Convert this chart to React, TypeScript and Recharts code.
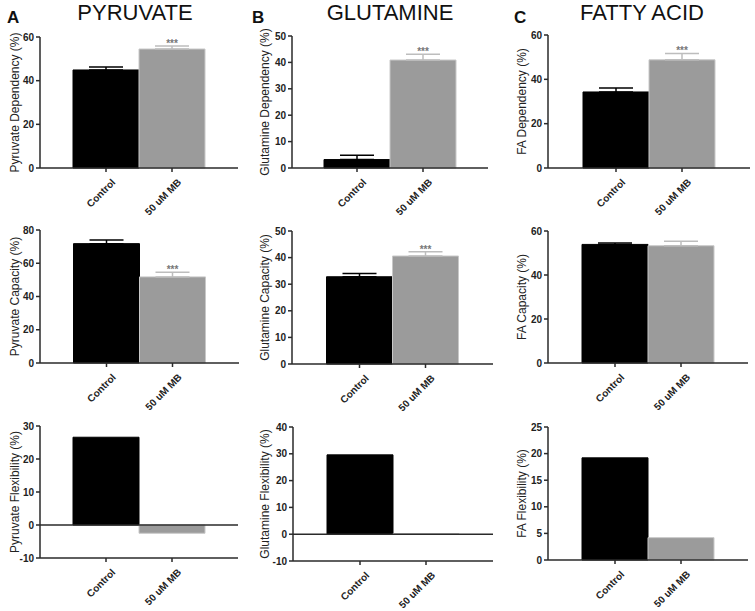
import { BarChart, Bar, XAxis, YAxis, Cell, ErrorBar, LabelList, ReferenceLine } from 'recharts';

const categories = ['Control', '50 uM MB'];

// column A - pyruvate
const pyruvateDependency = [44.9, 54.5];
const pyruvateDependencyErr = [1.4, 1.4];
const pyruvateCapacity = [71.8, 51.8];
const pyruvateCapacityErr = [2.2, 2.8];
const pyruvateFlexibility = [26.6, -2.5];

// column B - glutamine
const glutamineDependency = [3.2, 40.9];
const glutamineDependencyErr = [1.6, 2.2];
const glutamineCapacity = [32.8, 40.6];
const glutamineCapacityErr = [1.2, 1.6];
const glutamineFlexibility = [29.6, 0.2];

// column C - fatty acid
const faDependency = [34.3, 48.8];
const faDependencyErr = [1.8, 2.9];
const faCapacity = [53.9, 53.3];
const faCapacityErr = [0.7, 2.0];
const faFlexibility = [19.2, 4.2];

const sigMB = ['', '***'];
const sigNone = ['', ''];

const ticks0to60 = [0, 20, 40, 60];
const ticks0to80 = [0, 20, 40, 60, 80];
const ticks0to50 = [0, 10, 20, 30, 40, 50];
const ticksM10to30 = [-10, 0, 10, 20, 30];
const ticksM10to40 = [-10, 0, 10, 20, 30, 40];
const ticks0to25 = [0, 5, 10, 15, 20, 25];

const FONT = '"Liberation Sans", Arial, sans-serif';
const BAR_FILLS = ['#000000', '#9b9b9b'];
const BAR_STROKES = ['#000000', '#c8c8c8'];
const AXIS = '#2a2a2a';

interface Row {
  name: string;
  value: number;
  err?: number;
  errCtl?: [number, number];
  errMb?: [number, number];
  sig: string;
}

interface PanelProps {
  left: number;
  axisX: number;
  plotRight: number;
  yTop: number;
  yBottom: number;
  values: number[];
  errors?: number[];
  stars: string[];
  label: string;
  labelX: number;
  ticks: number[];
  zeroLine?: boolean;
}

const XTick = (props: any) => {
  const { x, y, payload } = props;
  return (
    <g transform={`translate(${x + 5},${y + 4})`}>
      <text
        x={0}
        y={0}
        dy="0.7em"
        textAnchor="end"
        transform="rotate(-45)"
        fontSize={10}
        fontWeight="bold"
        fontFamily={FONT}
        fill="#222"
      >
        {payload.value}
      </text>
    </g>
  );
};

function Panel({ left, axisX, plotRight, yTop, yBottom, values, errors, stars, label, labelX, ticks, zeroLine }: PanelProps) {
  const rows: Row[] = categories.map((name, i) => ({
    name,
    value: values[i],
    err: errors ? errors[i] : undefined,
    errCtl: errors && i === 0 ? [0, errors[i]] : undefined,
    errMb: errors && i === 1 ? [0, errors[i]] : undefined,
    sig: stars[i],
  }));

  const marginTop = 10;
  const xAxisHeight = 48;
  const yAxisWidth = axisX - left;
  const width = plotRight - left + 6;
  const height = yBottom - yTop + marginTop + xAxisHeight;
  const pad = (plotRight - axisX - 132) / 2;

  const renderStars = (p: any) => {
    const row = rows[p.index];
    if (!row || !row.sig) return null;
    const bx = p.x ?? p.viewBox?.x;
    const by = p.y ?? p.viewBox?.y;
    const bw = p.width ?? p.viewBox?.width;
    const bh = p.height ?? p.viewBox?.height;
    const errPx = row.value ? ((row.err ?? 0) * bh) / row.value : 0;
    return (
      <text x={bx + bw / 2} y={by - errPx + 1} textAnchor="middle" fontSize={10} fontWeight="bold" fontFamily={FONT} fill="#777">
        {row.sig}
      </text>
    );
  };

  return (
    <div style={{ position: 'absolute', left, top: yTop - marginTop }}>
      <BarChart width={width} height={height} data={rows} margin={{ top: marginTop, right: 6, left: 0, bottom: 0 }} barCategoryGap={0} barGap={0}>
        <XAxis
          dataKey="name"
          interval={0}
          height={xAxisHeight}
          padding={{ left: pad, right: pad }}
          stroke={AXIS}
          axisLine={{ stroke: AXIS, strokeWidth: 1.5 }}
          tickLine={{ stroke: AXIS, strokeWidth: 1.5 }}
          tickSize={4}
          tick={<XTick />}
        />
        <YAxis
          width={yAxisWidth}
          domain={[ticks[0], ticks[ticks.length - 1]]}
          ticks={ticks}
          interval={0}
          stroke={AXIS}
          axisLine={{ stroke: AXIS, strokeWidth: 1.5 }}
          tickLine={{ stroke: AXIS, strokeWidth: 1.5 }}
          tickSize={4}
          tickMargin={2}
          tick={{ fill: '#222', fontSize: 10, fontWeight: 'bold', fontFamily: FONT }}
          label={{
            value: label,
            angle: -90,
            position: 'insideLeft',
            offset: labelX,
            style: { textAnchor: 'middle', fontSize: 12, fontFamily: FONT, fill: '#222' },
          }}
        />
        {zeroLine && <ReferenceLine y={0} stroke={AXIS} strokeWidth={1.5} />}
        <Bar dataKey="value" isAnimationActive={false} strokeWidth={1}>
          {rows.map((r, i) => (
            <Cell key={r.name} fill={BAR_FILLS[i]} stroke={BAR_STROKES[i]} />
          ))}
          {errors && <ErrorBar dataKey="errCtl" width={17} stroke="#000" strokeWidth={1.5} direction="y" />}
          {errors && <ErrorBar dataKey="errMb" width={17} stroke="#bdbdbd" strokeWidth={1.5} direction="y" />}
          <LabelList dataKey="sig" content={renderStars} />
        </Bar>
      </BarChart>
    </div>
  );
}

const titleStyle: React.CSSProperties = {
  position: 'absolute',
  top: 0,
  fontFamily: FONT,
  fontSize: 22,
  color: '#111',
  transform: 'translateX(-50%)',
  whiteSpace: 'nowrap',
  lineHeight: '26px',
};

const letterStyle: React.CSSProperties = {
  position: 'absolute',
  top: 8,
  fontFamily: FONT,
  fontSize: 17,
  fontWeight: 'bold',
  color: '#111',
  lineHeight: '20px',
};

export default function App() {
  return (
    <div style={{ position: 'absolute', left: 0, top: 0, width: 755, height: 611, background: '#fff', overflow: 'hidden' }}>
      <div style={{ ...letterStyle, left: 7 }}>A</div>
      <div style={{ ...letterStyle, left: 252 }}>B</div>
      <div style={{ ...letterStyle, left: 514 }}>C</div>
      <div style={{ ...titleStyle, left: 135 }}>PYRUVATE</div>
      <div style={{ ...titleStyle, left: 390 }}>GLUTAMINE</div>
      <div style={{ ...titleStyle, left: 642 }}>FATTY ACID</div>

      <Panel left={0} axisX={40} plotRight={238} yTop={37} yBottom={168} values={pyruvateDependency} errors={pyruvateDependencyErr} stars={sigMB} label="Pyruvate Dependency (%)" labelX={15} ticks={ticks0to60} />
      <Panel left={0} axisX={40} plotRight={239} yTop={230} yBottom={363} values={pyruvateCapacity} errors={pyruvateCapacityErr} stars={sigMB} label="Pyruvate Capacity (%)" labelX={15} ticks={ticks0to80} />
      <Panel left={0} axisX={40} plotRight={238} yTop={426} yBottom={558} values={pyruvateFlexibility} stars={sigNone} label="Pyruvate Flexibility (%)" labelX={15} ticks={ticksM10to30} zeroLine />

      <Panel left={250} axisX={292} plotRight={488} yTop={36} yBottom={168} values={glutamineDependency} errors={glutamineDependencyErr} stars={sigMB} label="Glutamine Dependency (%)" labelX={15} ticks={ticks0to50} />
      <Panel left={250} axisX={292} plotRight={493} yTop={231} yBottom={364} values={glutamineCapacity} errors={glutamineCapacityErr} stars={sigMB} label="Glutamine Capacity (%)" labelX={15} ticks={ticks0to50} />
      <Panel left={250} axisX={293} plotRight={493} yTop={427} yBottom={561} values={glutamineFlexibility} stars={sigNone} label="Glutamine Flexibility (%)" labelX={15} ticks={ticksM10to40} zeroLine />

      <Panel left={500} axisX={548} plotRight={750} yTop={35} yBottom={168} values={faDependency} errors={faDependencyErr} stars={sigMB} label="FA Dependency (%)" labelX={22} ticks={ticks0to60} />
      <Panel left={500} axisX={548} plotRight={748} yTop={231} yBottom={363} values={faCapacity} errors={faCapacityErr} stars={sigNone} label="FA Capacity (%)" labelX={22} ticks={ticks0to60} />
      <Panel left={500} axisX={548} plotRight={748} yTop={427} yBottom={560} values={faFlexibility} stars={sigNone} label="FA Flexibility (%)" labelX={22} ticks={ticks0to25} />
    </div>
  );
}
